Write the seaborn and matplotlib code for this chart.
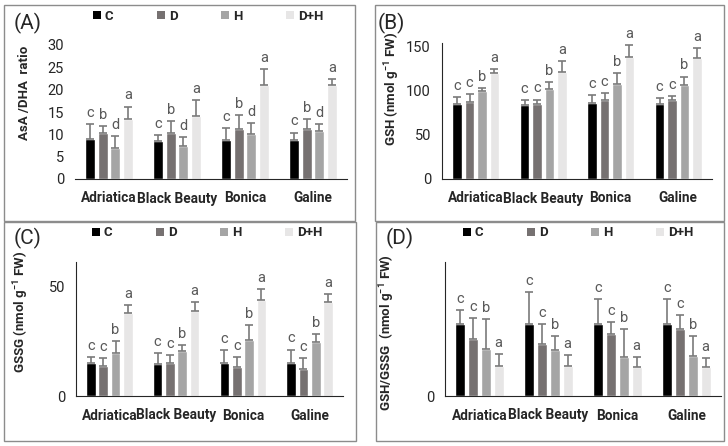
import numpy as np
import pandas as pd
import seaborn as sns
import matplotlib.pyplot as plt
from matplotlib.patches import Patch, Rectangle

sns.set_style("white")
plt.rcParams['font.family'] = ['Roboto', 'DejaVu Sans']
plt.rcParams['mathtext.fontset'] = 'custom'
plt.rcParams['mathtext.rm'] = 'Roboto'
plt.rcParams['mathtext.bf'] = 'Roboto:bold'

cultivars = ["Adriatica", "Black Beauty", "Bonica", "Galine"]
treatments = ["C", "D", "H", "D+H"]
colors = ["#000000", "#767171", "#a5a5a5", "#e7e6e6"]

# rows = cultivar, cols = treatment
asa_mean = [[8.9, 10.2, 7.0, 13.4],
            [8.5, 10.4, 7.4, 14.0],
            [8.7, 11.2, 10.0, 21.0],
            [8.7, 11.2, 10.7, 21.0]]
asa_err = [[3.4, 1.7, 2.6, 2.8],
           [1.4, 2.6, 1.9, 3.7],
           [2.7, 3.1, 2.6, 3.7],
           [1.7, 2.2, 1.6, 1.3]]
asa_letters = ["c", "b", "d", "a"]

gsh_mean = [[85, 87, 100, 120],
            [83.5, 85, 102, 121.5],
            [86, 90, 108, 138],
            [85, 89, 107, 137]]
gsh_err = [[8, 9, 3, 4],
           [5.5, 5, 8, 12],
           [9, 7, 12, 14],
           [7, 5, 9, 11]]
gsh_letters = ["c", "c", "b", "a"]

gssg_mean = [[14.8, 13.8, 19.4, 37.9],
             [14.7, 15.0, 20.3, 38.8],
             [15.0, 13.3, 25.6, 43.8],
             [14.8, 12.4, 24.5, 42.9]]
gssg_err = [[2.9, 3.3, 5.6, 3.5],
            [4.7, 3.5, 2.9, 3.9],
            [5.9, 4.4, 6.7, 4.7],
            [6.3, 4.9, 3.5, 3.5]]
gssg_letters = ["c", "c", "b", "a"]

ratio_mean = [[5.6, 4.46, 3.66, 2.35],
              [5.6, 4.05, 3.56, 2.32],
              [5.6, 4.85, 3.05, 2.25],
              [5.6, 5.19, 3.12, 2.27]]
ratio_err = [[1.08, 1.6, 2.28, 0.88],
             [2.45, 1.55, 1.06, 0.88],
             [1.9, 0.9, 2.16, 0.77],
             [1.94, 1.06, 1.53, 0.67]]
ratio_letters = ["c", "c", "b", "a"]


def to_long(mean, err):
    rows = []
    for i, cv in enumerate(cultivars):
        for j, tr in enumerate(treatments):
            rows.append({"cultivar": cv, "treatment": tr, "value": mean[i][j], "err": err[i][j]})
    return pd.DataFrame(rows)


def draw_panel(ax, mean, err, letters, ylim, yticks, ylabel, left_spine=True):
    df = to_long(mean, err)
    sns.barplot(data=df, x="cultivar", y="value", hue="treatment", order=cultivars,
                hue_order=treatments, palette=colors, width=0.74, gap=0.22,
                errorbar=None, legend=False, saturation=1, ax=ax)
    bar_conts = list(ax.containers)
    for j, cont in enumerate(bar_conts):
        for i, bar in enumerate(cont.patches):
            x = bar.get_x() + bar.get_width() / 2
            top = bar.get_height()
            e = err[i][j]
            ax.errorbar(x, top, yerr=[[0], [e]], fmt='none', ecolor='#7a7a7a',
                        elinewidth=1.2, capsize=2.8, capthick=1.2)
            ax.annotate(letters[j], (x, top + e), xytext=(0, 3), textcoords='offset points',
                        ha='center', va='bottom', fontsize=10.5, color='#595959')
    ax.set_ylim(*ylim)
    ax.set_xlim(-0.5, 3.5)
    ax.set_yticks(yticks)
    ax.set_xticks(range(len(cultivars)))
    ax.set_xticklabels(cultivars, fontweight='bold', fontsize=9.8)
    ax.tick_params(axis='both', length=0, colors='#262626')
    ax.tick_params(axis='y', labelsize=10.5, pad=8)
    ax.tick_params(axis='x', pad=9)
    ax.set_xlabel("")
    ax.set_ylabel(ylabel, fontsize=9.5, fontweight='bold', color='#262626')
    for s in ['top', 'right']:
        ax.spines[s].set_visible(False)
    ax.spines['left'].set_visible(left_spine)
    ax.spines['left'].set_color('#262626')
    ax.spines['bottom'].set_color('#262626')


fig = plt.figure(figsize=(7.28, 4.46), dpi=100)
W, H = 728, 446


def axes_px(x0, x1, ybot, ytop):
    return fig.add_axes([x0 / W, 1 - ybot / H, (x1 - x0) / W, (ybot - ytop) / H])


axA = axes_px(75, 347, 179, 45)
axB = axes_px(442, 712, 179, 43)
axC = axes_px(76, 343, 396, 262)
axD = axes_px(445, 721, 396, 262)

draw_panel(axA, asa_mean, asa_err, asa_letters, (0, 30), [0, 5, 10, 15, 20, 25, 30],
           "AsA /DHA  ratio", left_spine=False)
draw_panel(axB, gsh_mean, gsh_err, gsh_letters, (0, 154), [0, 50, 100, 150],
           r"GSH (nmol g$^{\mathbf{-1}}$ FW)")
draw_panel(axC, gssg_mean, gssg_err, gssg_letters, (0, 61), [0, 50],
           r"GSSG (nmol g$^{\mathbf{-1}}$ FW)")
draw_panel(axD, ratio_mean, ratio_err, ratio_letters, (0, 10.4), [0],
           r"GSH/GSSG  (nmol g$^{\mathbf{-1}}$ FW)")

axA.yaxis.set_label_coords(-0.162, 0.64)
axB.yaxis.set_label_coords(-0.148, 0.66)
axC.yaxis.set_label_coords(-0.169, 0.63)
axD.yaxis.set_label_coords(-0.174, 0.47)

# panel letters
for lbl, (px, py) in zip(["(A)", "(B)", "(C)", "(D)"],
                         [(14, 23), (378, 23), (14, 238), (386, 238)]):
    fig.text(px / W, 1 - py / H, lbl, fontsize=15, va='center', ha='left', color='#262626')

# legends
handles = [Patch(facecolor=c, edgecolor='none') for c in colors]
for ax, (px, py) in [(axA, (93, 16)), (axC, (92, 233)), (axD, (463, 233))]:
    ax.legend(handles, treatments, ncol=4, loc='center left',
              bbox_to_anchor=(px / W, 1 - py / H), bbox_transform=fig.transFigure,
              frameon=False, borderpad=0, borderaxespad=0, handlelength=0.6,
              handleheight=0.6, handletextpad=0.3, columnspacing=3.3,
              prop={'weight': 'bold', 'size': 9.5})

# panel frames
for x0, x1, y0, y1 in [(4, 355, 5, 221), (375, 724, 5, 221), (4, 356, 222, 441), (376, 724, 222, 441)]:
    fig.add_artist(Rectangle((x0 / W, 1 - y1 / H), (x1 - x0) / W, (y1 - y0) / H,
                             transform=fig.transFigure, fill=False, edgecolor='#8c8c8c', lw=1))

plt.savefig("out.png", dpi=100)
plt.close()
